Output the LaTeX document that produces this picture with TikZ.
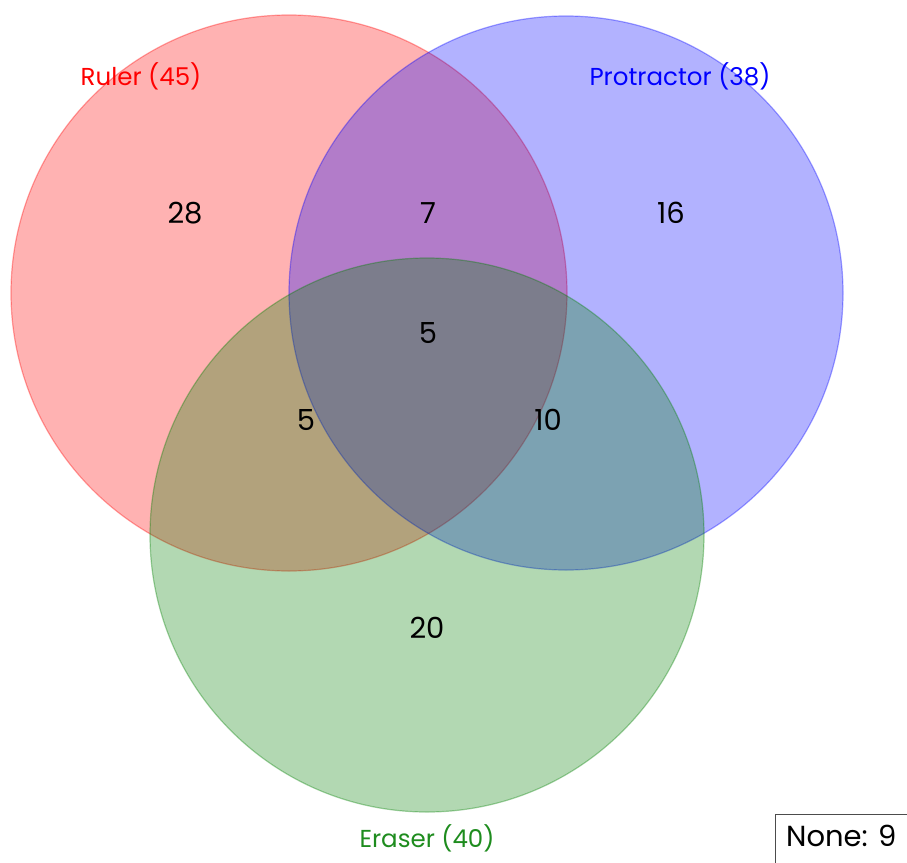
\documentclass[tikz,border=0pt]{standalone}
\usepackage{fontspec}
\setmainfont{Poppins}
\definecolor{rulerc}{RGB}{255,0,0}
\definecolor{protc}{RGB}{0,0,255}
\definecolor{erasc}{RGB}{0,128,0}
\definecolor{erastext}{RGB}{30,140,30}
\begin{document}
\begin{tikzpicture}[x=1pt,y=-1pt,
  setcircle/.style={fill opacity=0.3, draw opacity=0.35, line width=1.2pt},
  count/.style={font=\fontsize{29}{32}\selectfont, text=black},
  setlabel/.style={font=\fontsize{24.5}{28}\selectfont}]
\useasboundingbox (0,0) rectangle (907,862);
\fill[white] (0,0) rectangle (907,862);
\path[setcircle, fill=rulerc, draw=rulerc] (289,293) circle (278);
\path[setcircle, fill=protc, draw=protc] (566,293) circle (277);
\path[setcircle, fill=erasc, draw=erasc] (427,535) circle (277);
\node[setlabel, text=rulerc] (lr) at (141,76) {Ruler (45)};
\node[setlabel, text=protc] (lp) at (680,76) {Protractor (38)};
\node[setlabel, text=erastext] (le) at (427,838) {Eraser (40)};
\node[count] (r) at (185,213) {28};
\node[count] (rp) at (428,213) {7};
\node[count] (p) at (671,213) {16};
\node[count] (rpe) at (428,333) {5};
\node[count] (re) at (306,420) {5};
\node[count] (pe) at (548,420) {10};
\node[count] (e) at (427,628) {20};
\draw[black!70, line width=0.8pt, fill=white] (775,814) rectangle (920,880);
\node[anchor=west, font=\fontsize{29}{31}\selectfont, inner sep=0pt] (none) at (786,836) {None: 9};
\end{tikzpicture}
\end{document}
